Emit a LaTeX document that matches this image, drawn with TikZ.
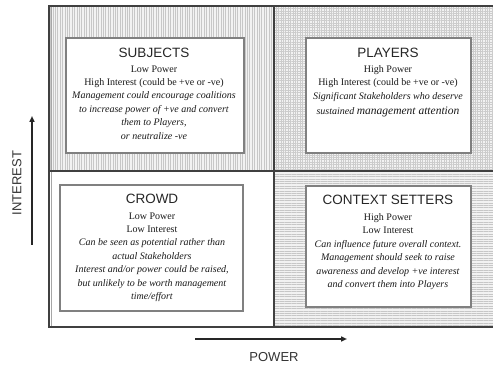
\documentclass[tikz,border=0pt]{standalone}
\usepackage{fontspec}
\setmainfont{Liberation Serif}
\setsansfont{Liberation Sans}
\usetikzlibrary{patterns.meta,arrows.meta}
\begin{document}
\begin{tikzpicture}[x=1pt,y=-1pt,
  frame/.style={draw=black!75,line width=1.3pt},
  innerbox/.style={draw=black!50,line width=1.4pt,fill=white,inner sep=0pt},
  boxtitle/.style={anchor=base,inner sep=0pt,text=black!85,font=\sffamily\fontsize{13.5}{15}\selectfont},
  boxbody/.style={anchor=north,inner sep=0pt,align=center,text=black!90,font=\rmfamily\fontsize{10}{13.4}\selectfont},
  axisarrow/.style={draw=black!85,line width=1.6pt,-{Triangle[length=6pt,width=5pt]}},
  axislabel/.style={inner sep=0pt,text=black!80,font=\sffamily\fontsize{13}{15}\selectfont}]
\useasboundingbox (0,0) rectangle (493,366);
% quadrant backgrounds
\fill[white] (49,6) rectangle (493,327);
\fill[black!5] (49,6) rectangle (274,171);
\fill[pattern={Lines[angle=90,distance=2.4pt,line width=0.5pt]},pattern color=black!22] (49,6) rectangle (274,171);
\fill[black!5] (274,6) rectangle (493,171);
\fill[pattern={Hatch[angle=0,distance=2.4pt,line width=0.4pt]},pattern color=black!20] (274,6) rectangle (493,171);
\fill[black!5] (274,171) rectangle (493,327);
\fill[pattern={Lines[angle=0,distance=2.4pt,line width=0.5pt]},pattern color=black!22] (274,171) rectangle (493,327);
% frame lines
\draw[frame] (494,6) -- (49,6) -- (49,327) -- (494,327);
\draw[draw=black!35,line width=0.6pt] (51.5,7) -- (51.5,326);
\draw[frame,line width=1.6pt] (274,6) -- (274,327);
\draw[frame,line width=1.6pt] (49,171) -- (494,171);
% inner boxes
\node[innerbox,minimum width=178pt,minimum height=115pt] (subjbox) at (155,95.5) {};
\node[innerbox,minimum width=165pt,minimum height=115pt] (playbox) at (388.5,95.5) {};
\node[innerbox,minimum width=183pt,minimum height=126pt] (crowdbox) at (151.5,248) {};
\node[innerbox,minimum width=165pt,minimum height=121pt] (ctxbox) at (388.5,246.5) {};
% texts
\node[boxtitle] (subjtitle) at (154,58) {SUBJECTS};
\node[boxbody] (subjtext) at (154,65.3) {Low Power\\High Interest (could be +ve or -ve)\\
\textit{Management could encourage coalitions}\\\textit{to increase power of +ve and convert}\\
\textit{them to Players,}\\\textit{or neutralize -ve}};
\node[boxtitle] (playtitle) at (388,58) {PLAYERS};
\node[boxbody] (playtext) at (388,65.3) {High Power\\High Interest (could be +ve or -ve)\\
\textit{Significant Stakeholders who deserve}\\[1.5pt]\textit{sustained {\fontsize{11.5}{13.4}\selectfont management attention}}};
\node[boxtitle] (crowdtitle) at (152,204) {CROWD};
\node[boxbody] (crowdtext) at (152,212.3) {Low Power\\Low Interest\\
\textit{Can be seen as potential rather than}\\\textit{actual Stakeholders}\\
\textit{Interest and/or power could be raised,}\\\textit{but unlikely to be worth management}\\\textit{time/effort}};
\node[boxtitle] (ctxtitle) at (388,205) {CONTEXT SETTERS};
\node[boxbody] (ctxtext) at (388,213.3) {High Power\\Low Interest\\
\textit{Can influence future overall context.}\\\textit{Management should seek to raise}\\
\textit{awareness and develop +ve interest}\\\textit{and convert them into Players}};
% axes
\coordinate (intstart) at (32,245);
\coordinate (intend) at (32,116);
\coordinate (powstart) at (195,339);
\coordinate (powend) at (347,339);
\draw[axisarrow] (intstart) -- (intend);
\draw[axisarrow] (powstart) -- (powend);
\node[axislabel,rotate=90] (intlabel) at (17,183) {INTEREST};
\node[axislabel] (powlabel) at (274,357) {POWER};
\end{tikzpicture}
\end{document}
